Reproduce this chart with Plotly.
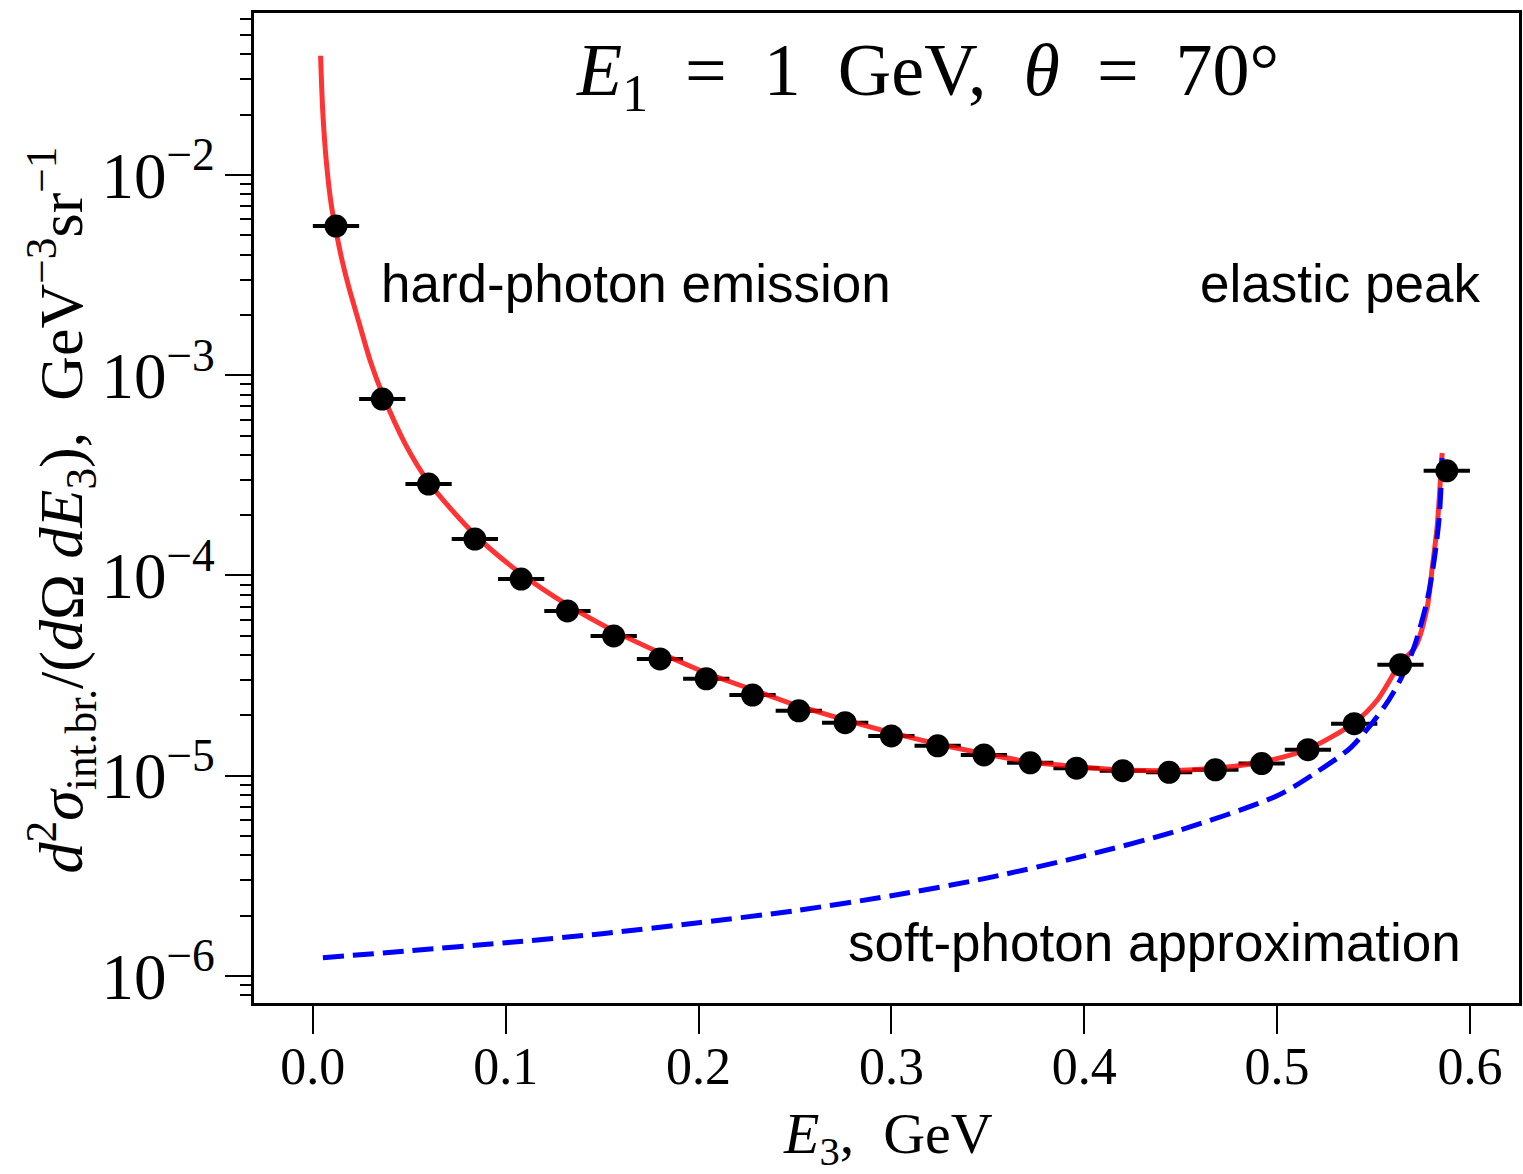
import plotly.graph_objects as go

# measured data points (bin centres, values) with horizontal bin half-width
e3_points = [0.012, 0.036, 0.060, 0.084, 0.108, 0.132, 0.156, 0.180, 0.204, 0.228,
             0.252, 0.276, 0.300, 0.324, 0.348, 0.372, 0.396, 0.420, 0.444, 0.468,
             0.492, 0.516, 0.540, 0.564, 0.588]
sigma_points = [5.56e-3, 7.6e-4, 2.86e-4, 1.52e-4, 9.6e-5, 6.65e-5, 4.99e-5, 3.83e-5,
                3.05e-5, 2.53e-5, 2.11e-5, 1.84e-5, 1.58e-5, 1.41e-5, 1.27e-5, 1.16e-5,
                1.09e-5, 1.06e-5, 1.04e-5, 1.07e-5, 1.15e-5, 1.35e-5, 1.82e-5, 3.58e-5,
                3.33e-4]
bin_halfwidth = [0.012] * len(e3_points)

# full calculation (red solid)
e3_full = [0.0040, 0.0052, 0.0071, 0.0095, 0.0123, 0.0152, 0.0186, 0.0238, 0.030, 0.036,
           0.048, 0.060, 0.084, 0.108, 0.132, 0.156, 0.180, 0.204, 0.228, 0.252,
           0.276, 0.300, 0.324, 0.348, 0.372, 0.396, 0.420, 0.444, 0.468, 0.492,
           0.516, 0.540, 0.552, 0.564, 0.5717, 0.5779, 0.5805, 0.5830, 0.5846, 0.5856]
sigma_full = [3.94e-2, 2.02e-2, 1.135e-2, 7.16e-3, 5.07e-3, 3.73e-3, 2.76e-3, 1.85e-3, 1.16e-3, 8.1e-4,
              4.52e-4, 2.93e-4, 1.60e-4, 1.02e-4, 7.13e-5, 5.29e-5, 4.11e-5, 3.26e-5, 2.69e-5, 2.23e-5,
              1.90e-5, 1.64e-5, 1.44e-5, 1.29e-5, 1.17e-5, 1.11e-5, 1.07e-5, 1.06e-5, 1.09e-5, 1.17e-5,
              1.36e-5, 1.84e-5, 2.39e-5, 3.66e-5, 4.40e-5, 6.97e-5, 1.10e-4, 1.75e-4, 2.90e-4, 4.09e-4]

# soft-photon approximation (blue dashed)
e3_soft = [0.0052, 0.05, 0.10, 0.15, 0.20, 0.25, 0.30, 0.35, 0.40, 0.45,
           0.50, 0.521, 0.5385, 0.5556, 0.5639, 0.5711, 0.5779, 0.5815, 0.5841, 0.5851, 0.5856]
sigma_soft = [1.233e-6, 1.336e-6, 1.465e-6, 1.626e-6, 1.845e-6, 2.118e-6, 2.515e-6, 3.09e-6, 3.98e-6, 5.37e-6,
              7.94e-6, 1.05e-5, 1.39e-5, 2.21e-5, 3.01e-5, 4.40e-5, 7.56e-5, 1.20e-4, 1.96e-4, 2.90e-4, 3.91e-4]

NB = "\u00a0"
title_text = f"<i>E</i><sub>1</sub>{NB}{NB}={NB}{NB}1{NB}{NB}GeV,{NB}{NB}<i>θ</i>{NB}{NB}={NB}{NB}70°"
x_title = f"<i>E</i><sub>3</sub>,{NB}{NB}GeV"
y_title = (f"<i>d</i><sup>2</sup><i>σ</i><sub>int.br.</sub>/(<i>d</i>Ω{NB}<i>dE</i><sub>3</sub>),"
           f"{NB}{NB}GeV<sup>−3</sup>sr<sup>−1</sup>")

W, H = 1523, 1174
L, R, T, B = 254, 1522, 13, 1003

fig = go.Figure()

# error bars first (under the curves)
fig.add_trace(go.Scatter(
    x=e3_points, y=sigma_points, mode="markers",
    marker=dict(size=1, color="rgba(0,0,0,0)"),
    error_x=dict(type="data", array=bin_halfwidth, symmetric=True,
                 color="black", thickness=4, width=0),
    showlegend=False, hoverinfo="skip"))

fig.add_trace(go.Scatter(
    x=e3_full, y=sigma_full, mode="lines",
    line=dict(color="rgba(255,0,0,0.8)", width=5, shape="spline", smoothing=0.8),
    showlegend=False))

fig.add_trace(go.Scatter(
    x=e3_soft, y=sigma_soft, mode="lines",
    line=dict(color="#0000ff", width=5, dash="21px,9px", shape="spline", smoothing=0.8),
    showlegend=False))

fig.add_trace(go.Scatter(
    x=e3_points, y=sigma_points, mode="markers",
    marker=dict(size=23, color="black"),
    showlegend=False))

serif = "Liberation Serif"
sans = "Liberation Sans"

def px(xp):
    return (xp - L) / (R - L)

def py(yp):
    return (B - yp) / (B - T)

fig.update_layout(
    width=W, height=H,
    margin=dict(l=L, r=W - R, t=T, b=H - B),
    paper_bgcolor="white", plot_bgcolor="white",
    font=dict(family=serif, color="black"),
    xaxis=dict(range=[(L - 313) / 1933, (R - 313) / 1933],
               tickvals=[0.0, 0.1, 0.2, 0.3, 0.4, 0.5, 0.6],
               ticktext=["0.0", "0.1", "0.2", "0.3", "0.4", "0.5", "0.6"],
               ticks="outside", ticklen=28, tickwidth=1.5, tickcolor="black",
               ticklabelstandoff=-12,
               showline=True, linewidth=2.5, linecolor="black", mirror=True,
               showgrid=False, zeroline=False,
               tickfont=dict(family=serif, size=52)),
    yaxis=dict(type="log", range=[-6.135, -1.191], dtick=1,
               exponentformat="power",
               ticks="outside", ticklen=26, tickwidth=2, tickcolor="black",
               minor=dict(ticks="outside", ticklen=11, tickwidth=1.5, tickcolor="black",
                          showgrid=False),
               showline=True, linewidth=2.5, linecolor="black", mirror=True,
               showgrid=False, zeroline=False,
               tickfont=dict(family=serif, size=52)),
    annotations=[
        dict(text=title_text, x=px(929), y=py(76), xref="paper", yref="paper",
             showarrow=False, xanchor="center", yanchor="middle",
             font=dict(family=serif, size=74)),
        dict(text="hard-photon emission", x=px(379), y=py(283), xref="paper", yref="paper",
             showarrow=False, xanchor="left", yanchor="middle",
             font=dict(family=sans, size=53)),
        dict(text="elastic peak", x=px(1485), y=py(283), xref="paper", yref="paper",
             showarrow=False, xanchor="right", yanchor="middle",
             font=dict(family=sans, size=53)),
        dict(text="soft-photon approximation", x=px(847), y=py(942), xref="paper", yref="paper",
             showarrow=False, xanchor="left", yanchor="middle",
             font=dict(family=sans, size=53)),
        dict(text=x_title, x=px(890), y=py(1138), xref="paper", yref="paper",
             showarrow=False, xanchor="center", yanchor="middle",
             font=dict(family=serif, size=58)),
        dict(text=y_title, x=px(60), y=py(510), xref="paper", yref="paper",
             showarrow=False, xanchor="center", yanchor="middle", textangle=-90,
             font=dict(family=serif, size=62)),
    ],
)

fig.write_html("out.html")
